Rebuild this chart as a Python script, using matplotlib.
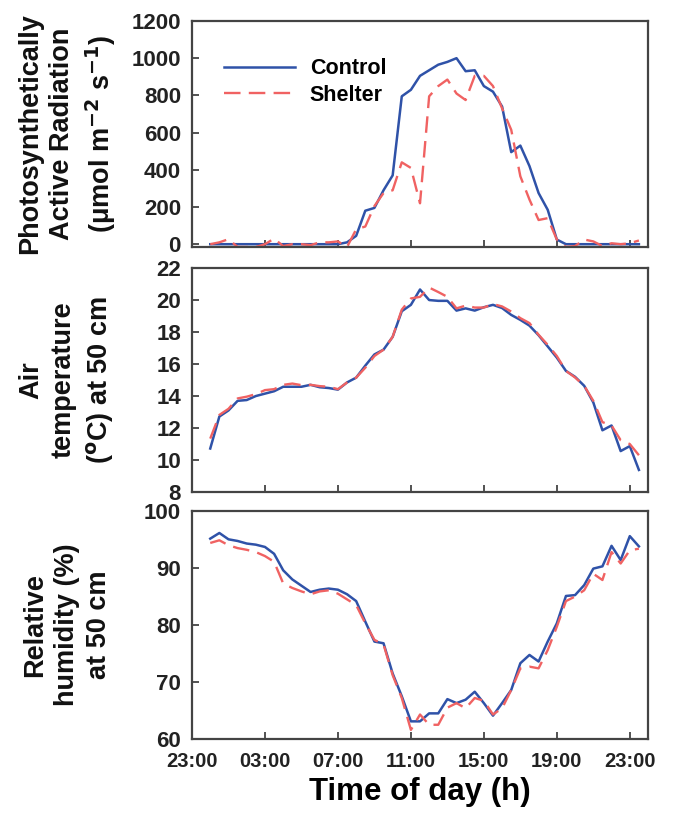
import numpy as np
import matplotlib
matplotlib.use("Agg")
import matplotlib.pyplot as plt

plt.rcParams['font.family'] = ['Liberation Sans', 'DejaVu Sans']
plt.rcParams['font.weight'] = 'bold'

# hours since 23:00, half-hourly readings
hours = np.arange(1.0, 25.0, 0.5)

par_control = [0, 0, 0, 0, 0, 0, 0, 0, 0, 0, 0, 0, 0, 0, 0, 10,
               45, 180, 195, 290, 370, 795, 830, 905, 935, 965, 980, 1000,
               930, 935, 850, 820, 740, 495, 530, 420, 275, 185, 25, 0,
               0, 0, 0, 0, 0, 0, 0, 0]
par_shelter = [0, 10, 27, -15, -15, -15, 0, 30, -10, 0, 0, -5, 10, 10, 15, -15,
               80, 95, 205, 275, 290, 440, 410, 220, 795, 850, 885, 810,
               775, 905, 905, 850, 730, 615, 365, 240, 130, 140, 25, -15,
               -10, 25, 15, -10, 5, 0, 5, 20]

temp_control = [10.72, 12.72, 13.1, 13.7, 13.75, 14.0, 14.15, 14.3, 14.58, 14.58, 14.58, 14.7,
                14.55, 14.5, 14.4, 14.85, 15.15, 15.9, 16.6, 16.9, 17.7, 19.3, 19.7, 20.66,
                20.0, 19.95, 19.95, 19.34, 19.48, 19.34, 19.55, 19.7, 19.5, 19.07, 18.76, 18.4,
                17.8, 17.1, 16.4, 15.57, 15.2, 14.64, 13.6, 11.86, 12.16, 10.56, 10.87, 9.38]
temp_shelter = [11.34, 12.82, 13.2, 13.85, 13.96, 14.12, 14.37, 14.43, 14.7, 14.78, 14.68, 14.7,
                14.62, 14.58, 14.43, 14.85, 15.15, 15.77, 16.5, 16.9, 17.7, 19.4, 20.1, 20.2,
                20.78, 20.5, 20.2, 19.48, 19.65, 19.53, 19.53, 19.75, 19.6, 19.28, 18.87, 18.56,
                17.83, 17.2, 16.5, 15.57, 15.16, 14.64, 13.7, 12.37, 12.16, 11.24, 11.0, 10.3]

rh_control = [95.16, 96.15, 95.04, 94.75, 94.3, 94.1, 93.7, 92.5, 89.6, 88.0, 86.9, 85.8,
              86.2, 86.4, 86.2, 85.4, 84.2, 80.6, 77.1, 76.8, 71.5, 67.5, 63.1, 63.1,
              64.5, 64.5, 67.0, 66.3, 66.9, 68.3, 66.3, 64.1, 66.3, 68.6, 73.3, 74.75,
              73.6, 77.1, 80.3, 85.1, 85.25, 87.0, 89.9, 90.3, 93.9, 91.4, 95.6, 93.8]
rh_shelter = [94.4, 94.87, 94.0, 93.5, 93.2, 92.8, 92.1, 91.1, 87.3, 86.5, 85.9, 85.4,
              85.9, 86.1, 85.5, 84.5, 83.5, 80.3, 77.4, 76.6, 71.2, 67.2, 61.6, 64.3,
              62.5, 62.5, 65.5, 66.3, 65.4, 67.2, 66.7, 64.3, 65.4, 68.6, 72.4, 72.7,
              72.4, 75.6, 79.7, 84.2, 85.0, 86.1, 89.0, 87.9, 92.8, 90.8, 93.1, 93.4]

tick_pos = [0, 4, 8, 12, 16, 20, 24]
tick_labels = ['23:00', '03:00', '07:00', '11:00', '15:00', '19:00', '23:00']

ylabels = ['Photosynthetically\nActive Radiation\n(\u03bcmol m$^{\\mathbf{-2}}$ s$^{\\mathbf{-1}}$)',
           'Air\ntemperature\n($^{\\mathbf{o}}$C) at 50 cm',
           'Relative\nhumidity (%)\nat 50 cm']

blue = '#2f52a8'
red = '#f06262'

fig = plt.figure(figsize=(6.73, 8.13), dpi=100)
rects = [[0.2853, 0.6962, 0.6776, 0.278],
         [0.2853, 0.3948, 0.6776, 0.2755],
         [0.2853, 0.0910, 0.6776, 0.2804]]
axs = [fig.add_axes(r) for r in rects]

series = [(par_control, par_shelter), (temp_control, temp_shelter), (rh_control, rh_shelter)]
ylims = [(-15, 1200), (8, 22), (60, 100)]
yticks = [np.arange(0, 1201, 200), np.arange(8, 23, 2), np.arange(60, 101, 10)]

for i, ax in enumerate(axs):
    c, s = series[i]
    ax.plot(hours, c, color=blue, lw=1.8, label='Control')
    ax.plot(hours, s, color=red, lw=1.7, dashes=(7, 3.5), label='Shelter')
    ax.set_xlim(0, 25)
    ax.set_ylim(*ylims[i])
    ax.set_yticks(yticks[i])
    ax.set_xticks(tick_pos)
    if i == 2:
        ax.set_xticklabels(tick_labels)
    else:
        ax.set_xticklabels([])
    ax.tick_params(direction='in', length=5, width=1.3, color='#444444',
                   labelsize=16, pad=8)
    ax.tick_params(axis='x', labelsize=14.5, pad=9)
    for sp in ax.spines.values():
        sp.set_color('#444444')
        sp.set_linewidth(1.6)
    for lab in ax.get_xticklabels() + ax.get_yticklabels():
        lab.set_fontweight('bold')
        lab.set_color('#222222')
    fig.text(0.1, rects[i][1] + rects[i][3] / 2, ylabels[i], rotation=90,
             ha='center', va='center', fontsize=19.5, fontweight='bold',
             linespacing=1.3, color='#111111')

axs[0].legend(loc='upper left', bbox_to_anchor=(0.027, 0.92), frameon=False,
              handlelength=3.3, handletextpad=0.7,
              labelspacing=0.25, prop={'weight': 'bold', 'size': 15.5})

axs[2].set_xlabel('Time of day (h)', fontsize=22.5, fontweight='bold', labelpad=5)

fig.savefig('out.png', dpi=100)
